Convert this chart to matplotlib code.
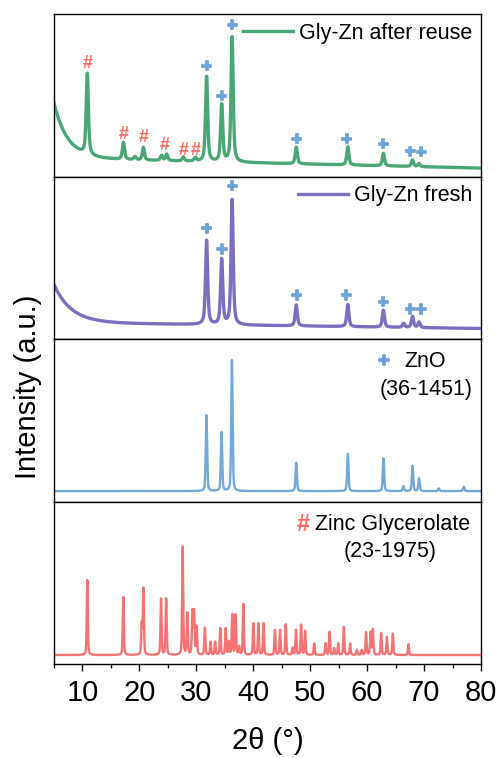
import numpy as np
import matplotlib
matplotlib.use("Agg")
import matplotlib.pyplot as plt
import matplotlib.patheffects as pe
from matplotlib.ticker import MultipleLocator

plt.rcParams["font.family"] = ["Liberation Sans", "DejaVu Sans"]

# ---- Peak tables (2theta in deg, height in arbitrary units) ----
REUSE_POS = [10.85, 17.2, 19.2, 20.7, 23.9, 24.8, 27.7, 29.8,
             31.8, 34.45, 36.28, 47.55, 56.6, 62.85, 67.95, 69.1]
REUSE_H = [81, 17, 3.3, 12.6, 5, 6.5, 4, 3.5,
           85, 57, 125, 16.5, 18, 12.5, 6.5, 3]
REUSE_BG = (55, 2.4, 10)   # amplitude, decay, linear slope part

FRESH_POS = [31.8, 34.45, 36.28, 47.55, 56.6, 62.85, 66.4, 67.95, 69.1]
FRESH_H = [84, 65, 125, 21, 22, 17, 4, 11, 5.5]
FRESH_BG = (38, 3.0, 6)

ZNO_POS = [31.77, 34.42, 36.25, 47.54, 56.60, 62.86, 66.38, 67.96, 69.10, 72.56, 76.95]
ZNO_H = [76, 58.7, 131, 28.4, 37.4, 32.7, 5, 25.4, 12.7, 2.7, 4.4]

ZG_POS = [10.85, 17.17, 20.4, 20.7, 23.8, 24.7, 27.6, 28.4, 29.3, 29.6, 30.05,
          31.5, 32.5, 33.3, 34.2, 35.15, 35.7, 36.3, 36.9, 37.5, 38.25,
          40.0, 40.9, 41.8, 43.8, 44.7, 45.7, 46.9, 47.5, 48.4, 49.1,
          50.7, 52.7, 53.4, 54.2, 54.9, 55.9, 57.0, 58.2, 59.05, 59.8,
          60.6, 61.0, 62.45, 63.45, 64.5, 67.25]
ZG_H = [75, 58, 30, 66, 56.5, 56.5, 108, 41.5, 43, 43, 28,
        27, 13, 13, 26.5, 26.5, 13, 40, 40, 8, 51,
        31.5, 31.5, 31.5, 25, 25, 30.5, 7, 25, 30, 24,
        11.5, 11.5, 23, 6.5, 11.5, 28, 11.5, 5, 5, 22.5,
        22.5, 25.5, 22, 18, 21.5, 11]

# ---- Phase markers above the peaks (x, y in data units) ----
REUSE_HASH = [(10.85, 105), (17.2, 34), (20.7, 31), (24.5, 23), (27.7, 18), (29.8, 18)]
REUSE_PLUS = [(31.8, 101), (34.45, 71), (36.3, 142), (47.6, 28), (56.4, 28),
              (62.8, 23), (67.6, 15.5), (69.5, 15)]
FRESH_PLUS = [(31.8, 98.6), (34.5, 78), (36.3, 141.3), (47.6, 32), (56.3, 32),
              (62.85, 25.3), (67.6, 18), (69.5, 18)]

GREEN = "#4BA677"
PURPLE = "#7C6FC0"
BLUE = "#72A8DA"
RED = "#F47474"
PLUS_C = "#6FA3D8"
HASH_C = "#FF6A62"

x = np.linspace(5, 80, 4000)


def pattern(pos, heights, fwhm, eta):
    y = np.zeros_like(x)
    for p, h in zip(pos, heights):
        d = (x - p) / (fwhm / 2)
        lor = 1 / (1 + d ** 2)
        gau = np.exp(-np.log(2) * d ** 2)
        y += h * (eta * lor + (1 - eta) * gau)
    return y


def background(amp, tau, lin):
    return amp * np.exp(-(x - 5) / tau) + lin * (80 - x) / 75


# '+' glyphs drawn a bit heavier with a same-colour stroke
heavy = [pe.withStroke(linewidth=1.3, foreground=PLUS_C)]


def plus(ax, px, py, size=13, **kw):
    ax.text(px, py, "+", color=PLUS_C, fontsize=size, fontweight="bold",
            ha="center", va="center", path_effects=heavy, **kw)


y_reuse = pattern(REUSE_POS, REUSE_H, 0.45, 0.6) + background(*REUSE_BG)
y_fresh = pattern(FRESH_POS, FRESH_H, 0.45, 0.6) + background(*FRESH_BG)
y_zno = pattern(ZNO_POS, ZNO_H, 0.28, 0.4)
y_zg = pattern(ZG_POS, ZG_H, 0.22, 0.4)

fig, axes = plt.subplots(4, 1, figsize=(4.98, 7.58), dpi=100, sharex=True)
fig.subplots_adjust(left=0.1084, right=0.966, top=0.981, bottom=0.124, hspace=0)

ax = axes[0]
ax.plot(x, y_reuse, color=GREEN, lw=2.4, label="Gly-Zn after reuse")
ax.set_ylim(-8.7, 153.7)
for px, py in REUSE_HASH:
    ax.text(px, py, "#", color=HASH_C, fontsize=13, fontweight="bold", ha="center", va="center")
for px, py in REUSE_PLUS:
    plus(ax, px, py)
ax.legend(loc="upper right", frameon=False, fontsize=15.5, handlelength=2.3,
          handletextpad=0.3, borderaxespad=0.1, borderpad=0.3)

ax = axes[1]
ax.plot(x, y_fresh, color=PURPLE, lw=2.4, label="Gly-Zn fresh")
ax.set_ylim(-10.7, 151.7)
for px, py in FRESH_PLUS:
    plus(ax, px, py)
ax.legend(loc="upper right", frameon=False, fontsize=15.5, handlelength=2.3,
          handletextpad=0.3, borderaxespad=0.1, borderpad=0.3)

ax = axes[2]
ax.plot(x, y_zno, color=BLUE, lw=1.7)
ax.set_ylim(-10.5, 151.9)
plus(ax, 0.773, 0.86, size=14, transform=ax.transAxes)
ax.text(0.82, 0.86, "ZnO", transform=ax.transAxes, fontsize=15.5, ha="left", va="center")
ax.text(0.98, 0.69, "(36-1451)", transform=ax.transAxes, fontsize=15.5, ha="right", va="center")

ax = axes[3]
ax.plot(x, y_zg, color=RED, lw=1.7)
ax.set_ylim(-9, 153.4)
ax.text(0.583, 0.86, "#", transform=ax.transAxes, color=HASH_C, fontsize=17,
        fontweight="bold", ha="center", va="center")
ax.text(0.612, 0.86, "Zinc Glycerolate", transform=ax.transAxes, fontsize=15.5,
        ha="left", va="center")
ax.text(0.895, 0.695, "(23-1975)", transform=ax.transAxes, fontsize=15.5,
        ha="right", va="center")

for a in axes:
    a.set_xlim(5, 80)
    a.set_yticks([])
    for s in a.spines.values():
        s.set_linewidth(1.0)
    a.tick_params(axis="x", which="both", bottom=False, top=False, labelbottom=False)

ax = axes[3]
ax.xaxis.set_major_locator(MultipleLocator(10))
ax.xaxis.set_minor_locator(MultipleLocator(5))
ax.tick_params(axis="x", which="major", bottom=True, labelbottom=True, direction="out",
               length=5, width=1.0, labelsize=21, pad=6)
ax.tick_params(axis="x", which="minor", bottom=True, direction="out", length=3, width=1.0)
ax.set_xlabel("2\u03b8 (\u00b0)", fontsize=21, labelpad=14)

fig.text(0.057, 0.49, "Intensity (a.u.)", rotation=90, fontsize=21, ha="center", va="center")

fig.savefig("out.png", dpi=100)
